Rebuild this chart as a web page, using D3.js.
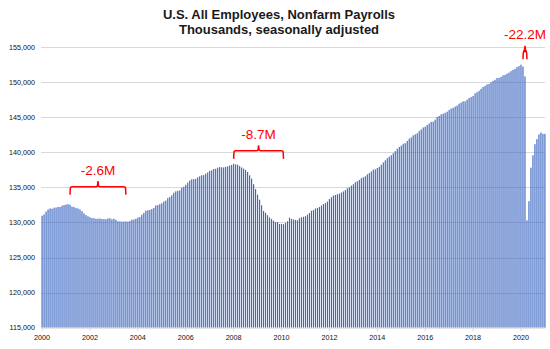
<!DOCTYPE html>
<html><head><meta charset="utf-8">
<script src="https://cdn.jsdelivr.net/npm/d3@7"></script>
<style>body{margin:0;background:#fff}svg{display:block}</style>
</head><body><svg id="c" width="550" height="349"></svg>
<script>
const titleLines = ["U.S. All Employees, Nonfarm Payrolls", "Thousands, seasonally adjusted"];
const startYear = 2000;
// Monthly nonfarm payrolls (thousands), Jan 2000 – Jan 2021
const employment = [
 130950,131150,131550,131850,132000,131950,132100,132120,132220,132200,132380,132470,
 132550,132600,132520,132250,132200,132050,131990,131850,131600,131300,131050,130880,
 130750,130620,130600,130520,130520,130560,130480,130480,130450,130560,130600,130440,
 130530,130380,130170,130150,130120,130110,130140,130100,130200,130390,130410,130530,
 130690,130760,131090,131340,131660,131740,131790,131910,132070,132410,132470,132600,
 132740,132980,133110,133470,133620,133870,134230,134430,134500,134580,134930,135090,
 135370,135680,135970,136150,136160,136220,136420,136580,136730,136740,136950,137120,
 137350,137430,137620,137650,137800,137890,137860,137840,137910,137990,138110,138200,
 138360,138280,138230,138020,137840,137670,137470,137190,136720,136250,135460,134750,
 133950,133240,132440,131640,131380,131030,130720,130490,130250,130050,130060,129780,
 129790,129740,129930,130180,130680,130500,130420,130370,130320,130590,130730,130810,
 130890,131100,131340,131660,131760,131990,132080,132190,132410,132620,132760,132970,
 133330,133590,133830,133910,134020,134100,134260,134420,134600,134870,135010,135250,
 135440,135740,135870,136060,136300,136450,136580,136850,137030,137260,137520,137570,
 137750,137920,138220,138550,138840,139140,139370,139580,139870,140160,140500,140750,
 140940,141210,141300,141610,141940,142120,142420,142560,142710,143020,143250,143530,
 143650,143890,144100,144330,144360,144650,145030,145170,145400,145500,145620,145780,
 146030,146220,146340,146510,146650,146920,147080,147260,147260,147490,147710,147870,
 148020,148400,148560,148750,149030,149310,149460,149670,149740,149970,150180,150320,
 150580,150590,150740,150960,151020,151200,151350,151570,151740,151880,152140,152270,
 152480,152210,150800,130300,133030,137800,139570,141150,141870,142550,142810,142620,
 142630
];
const yTicks = [115000,120000,125000,130000,135000,140000,145000,150000,155000];
const xTickYears = [2000,2002,2004,2006,2008,2010,2012,2014,2016,2018,2020];
const annotationLabels = ["-2.6M", "-8.7M", "-22.2M"];
const annotationStart = ["2001-03", "2008-01", "2020-02"];
const annotationEnd   = ["2003-07", "2010-02", "2020-04"];
const annotationLevel = [135100, 140200, 154400];

const months = employment.map((_, i) => {
  const yr = startYear + Math.floor(i / 12), m = i % 12 + 1;
  return yr + "-" + String(m).padStart(2, "0");
});

const svg = d3.select("#c");
const pLeft = 41, pRight = 545, pTop = 47, pBottom = 327.7;

const x = d3.scaleBand().domain(months).range([pLeft + 0.5, pRight + 0.5]).paddingInner(0.42).paddingOuter(0);
const y = d3.scaleLinear().domain([115000, 155000]).range([pBottom, pTop]);
const cx = m => x(m) + x.bandwidth() / 2;

// title
svg.append("g").selectAll("text").data(titleLines).join("text")
  .attr("x", 279).attr("y", (d, i) => 18.5 + i * 15)
  .attr("text-anchor", "middle")
  .attr("font-family", "Liberation Sans, Arial, sans-serif")
  .attr("font-weight", "bold").attr("font-size", 13).attr("fill", "#1a1a1a")
  .text(d => d);

// gridlines
svg.append("g").selectAll("line").data(yTicks.filter(v => v > 115000)).join("line")
  .attr("x1", pLeft).attr("x2", pRight)
  .attr("y1", d => Math.round(y(d)) + 0.5).attr("y2", d => Math.round(y(d)) + 0.5)
  .attr("stroke", "#d9d9d9").attr("stroke-width", 1);

// y labels
svg.append("g").selectAll("text").data(yTicks).join("text")
  .attr("x", 35).attr("y", d => y(d) + 2.5)
  .attr("text-anchor", "end")
  .attr("font-family", "Liberation Sans, Arial, sans-serif")
  .attr("font-size", 7.2).attr("fill", "#111")
  .text(d => d3.format(",")(d));

// bars
svg.append("g")
  .selectAll("rect").data(employment).join("rect")
  .attr("x", (d, i) => x(months[i]))
  .attr("width", x.bandwidth())
  .attr("y", d => y(d))
  .attr("height", d => pBottom - y(d))
  .attr("fill", "#3d68c2");

// x axis line + ticks
svg.append("line").attr("x1", pLeft).attr("x2", pRight)
  .attr("y1", pBottom + 0.5).attr("y2", pBottom + 0.5)
  .attr("stroke", "#d9d9d9");
const tickMonths = xTickYears.map(yr => yr + "-01");
svg.append("g").selectAll("line").data(tickMonths).join("line")
  .attr("x1", d => cx(d)).attr("x2", d => cx(d))
  .attr("y1", pBottom).attr("y2", pBottom + 3.5)
  .attr("stroke", "#d9d9d9");
svg.append("g").selectAll("text").data(xTickYears).join("text")
  .attr("x", (d, i) => cx(tickMonths[i])).attr("y", 339.5)
  .attr("text-anchor", "middle")
  .attr("font-family", "Liberation Sans, Arial, sans-serif")
  .attr("font-size", 7.2).attr("fill", "#111")
  .text(d => d);

// annotations
const ann = svg.append("g");
annotationLabels.forEach((lab, i) => {
  const x1 = cx(annotationStart[i]), x2 = cx(annotationEnd[i]);
  const yl = y(annotationLevel[i]);
  const mid = (x1 + x2) / 2;
  const leg = 8, r = 2, notch = 5.5;
  const p = `M${x1},${yl + leg} L${x1 + 0.3},${yl + r} Q${x1 + 0.3},${yl} ${x1 + 2},${yl} ` +
            `L${mid - 2},${yl} Q${mid - 0.4},${yl} ${mid - 0.4},${yl - 2} L${mid},${yl - notch} ` +
            `L${mid + 0.4},${yl - 2} Q${mid + 0.4},${yl} ${mid + 2},${yl} ` +
            `L${x2 - 2},${yl} Q${x2 - 0.3},${yl} ${x2 - 0.3},${yl + r} L${x2},${yl + leg}`;
  ann.append("path").attr("d", p).attr("fill", "none")
    .attr("stroke", "#ff0000").attr("stroke-width", 1.5);
  ann.append("text").attr("x", mid).attr("y", yl - 12)
    .attr("text-anchor", "middle")
    .attr("font-family", "Liberation Sans, Arial, sans-serif")
    .attr("font-size", 13.5).attr("fill", "#ff0000")
    .text(lab);
});
</script></body></html>
